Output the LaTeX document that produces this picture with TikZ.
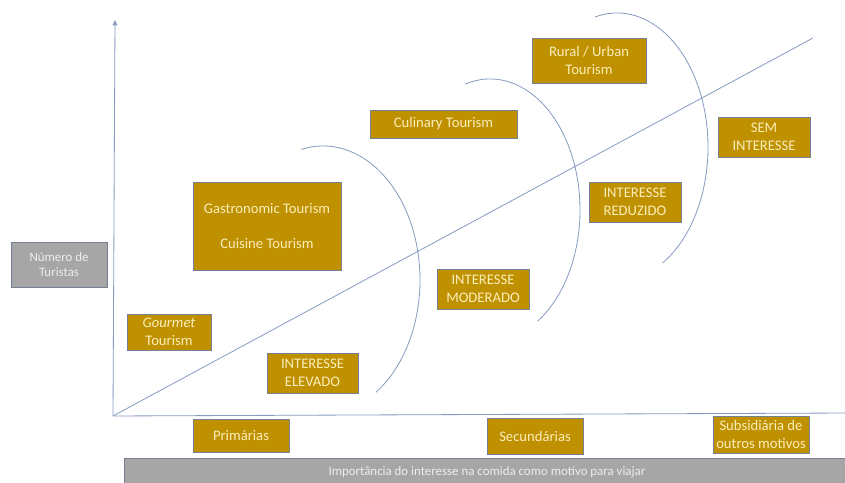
\documentclass[tikz,border=0pt]{standalone}
\usepackage{fontspec}
\setmainfont{Carlito}
\usetikzlibrary{arrows.meta}
\definecolor{boxgold}{RGB}{191,144,0}
\definecolor{textgold}{RGB}{250,238,185}
\definecolor{boxgrey}{RGB}{166,166,166}
\definecolor{edgegrey}{RGB}{118,128,148}
\definecolor{linebg}{RGB}{135,155,192}

\tikzset{
  foodbox/.style={draw=edgegrey, fill=boxgold, text=textgold, align=center,
    inner sep=0pt, line width=0.7pt, font=\fontsize{12.5}{15.5}\selectfont},
  axisbox/.style={draw=edgegrey, fill=boxgrey, text=white!93!black, align=center,
    inner sep=0pt, line width=0.7pt, font=\fontsize{11}{13.5}\selectfont},
  axisline/.style={draw=linebg, line width=0.7pt},
}

\begin{document}
\begin{tikzpicture}[x=0.03cm,y=0.03cm]
  \useasboundingbox (0,0) rectangle (845,483);

  % axes and diagonal
  \coordinate (orig) at (113,67);
  \coordinate (ytop) at (115,463);
  \coordinate (xend) at (850,70);
  \coordinate (dend) at (813,445);
  \draw[axisline,-{Triangle[length=4.5pt,width=4pt]}] (orig) -- (ytop);
  \draw[axisline] (orig) -- (xend);
  \draw[axisline] (orig) -- (dend);

  % interest arcs
  \coordinate (arcone) at (323,203);
  \coordinate (arctwo) at (490,273);
  \coordinate (arcthree) at (617,336);
  \draw[axisline] (arcone) ++(103:2.91cm and 4.02cm)
    arc[start angle=103, end angle=-57, x radius=2.91cm, y radius=4.02cm];
  \draw[axisline] (arctwo) ++(106:2.7cm and 3.93cm)
    arc[start angle=106, end angle=-58, x radius=2.7cm, y radius=3.93cm];
  \draw[axisline] (arcthree) ++(104:2.73cm and 4.02cm)
    arc[start angle=104, end angle=-60, x radius=2.73cm, y radius=4.02cm];

  % tourism types
  \node[foodbox, minimum width=2.52cm, minimum height=1.08cm] (gourmet) at (169,151) {\textit{Gourmet}\\Tourism};
  \node[foodbox, minimum width=4.44cm, minimum height=2.64cm] (gastro) at (267,257) {Gastronomic Tourism\\[14pt]Cuisine Tourism};
  \node[foodbox, minimum width=4.41cm, minimum height=0.84cm] (culinary) at (443.5,359) {Culinary Tourism};
  \node[foodbox, minimum width=3.42cm, minimum height=1.35cm] (rural) at (589,422.5) {Rural / Urban\\Tourism};

  % interest levels
  \node[foodbox, minimum width=2.73cm, minimum height=1.2cm] (elevado) at (312.5,110) {INTERESSE\\ELEVADO};
  \node[foodbox, minimum width=2.76cm, minimum height=1.2cm] (moderado) at (483,194) {INTERESSE\\MODERADO};
  \node[foodbox, minimum width=2.76cm, minimum height=1.2cm] (reduzido) at (635,281) {INTERESSE\\REDUZIDO};
  \node[foodbox, minimum width=2.76cm, minimum height=1.2cm] (sem) at (764,346) {SEM\\INTERESSE};

  % motive classes
  \node[foodbox, minimum width=2.88cm, minimum height=0.99cm] (primarias) at (241,47.5) {Primárias};
  \node[foodbox, minimum width=2.88cm, minimum height=1.08cm] (secundarias) at (535,47) {Secundárias};
  \node[foodbox, minimum width=2.88cm, minimum height=1.11cm] (subsid) at (761,48.5) {Subsidiária de\\outros motivos};

  % axis labels
  \node[axisbox, minimum width=2.88cm, minimum height=1.35cm] (numero) at (59,218.5) {Número de\\Turistas};
  \node[axisbox, minimum width=21.78cm, minimum height=0.84cm] (importancia) at (487,11) {Importância do interesse na comida como motivo para viajar};
\end{tikzpicture}
\end{document}
